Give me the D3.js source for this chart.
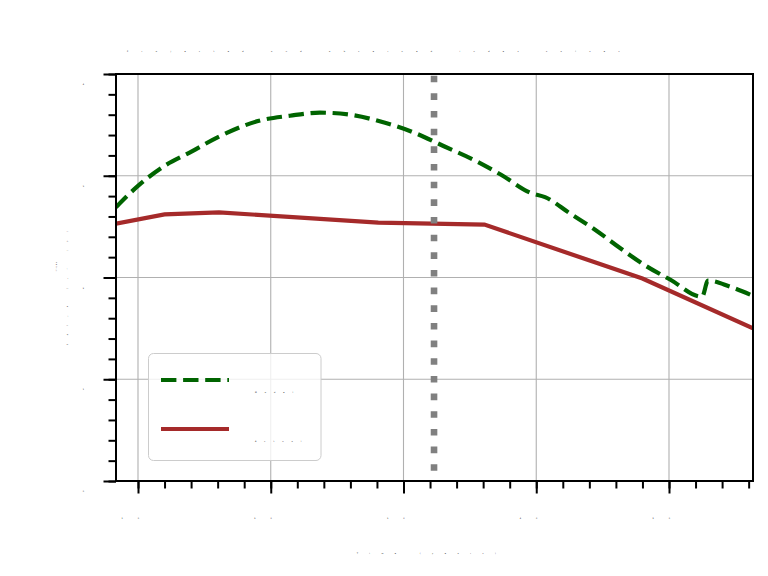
<!DOCTYPE html>
<html><head><meta charset="utf-8">
<script src="https://cdn.jsdelivr.net/npm/d3@7"></script>
<style>html,body{margin:0;padding:0;background:#fff}</style>
</head><body><svg id="chart" width="768" height="576"></svg>
<script>
// ---- data ----
const titleText = "Projected and observed index values";
const xLabelText = "Time (years)";
const yLabelLines = ["Index", "Value (units)"];
const seriesNames = ["Model", "Actual"];
const xTicks = [10, 20, 30, 40, 50];
const xTickLabels = ["10", "20", "30", "40", "50"];
const yTicks = [0, 1, 2, 3, 4];
const yTickLabels = ["0", "1", "2", "3", "4"];
const xMinorTicks = d3.range(10, 57, 2);
const yMinorTicks = d3.range(0, 4.01, 0.2);
const markerX = 32.3;

const projectedX = [8.34, 10.0, 12.03, 13.92, 16.03, 19.12, 21.45, 23.71, 25.97, 28.61, 30.87, 33.05, 35.39, 37.35, 39.61, 40.66, 42.54, 44.43, 46.31, 48.19, 50.08, 52.49, 52.94, 54.6, 56.33];
const projectedY = [2.69, 2.9, 3.1, 3.23, 3.38, 3.54, 3.59, 3.62, 3.6, 3.52, 3.42, 3.29, 3.15, 3.01, 2.83, 2.79, 2.63, 2.47, 2.29, 2.12, 1.98, 1.81, 1.97, 1.91, 1.82];

const observedX = [8.34, 12.0, 16.1, 28.1, 36.1, 48.0, 56.33];
const observedY = [2.53, 2.62, 2.64, 2.54, 2.52, 1.99, 1.5];

// ---- layout ----
const W = 768, H = 576;
const L = 116, R = 753, T = 74, B = 481;
const svg = d3.select("#chart");
const x = d3.scaleLinear().domain([8.343, 56.328]).range([L, R]);
const y = d3.scaleLinear().domain([0, 4]).range([B, T]);
const FONT = "DejaVu Sans, sans-serif";

svg.append("rect").attr("width", W).attr("height", H).attr("fill", "#fff");
svg.append("defs").append("clipPath").attr("id", "clip")
  .append("rect").attr("x", L).attr("y", T).attr("width", R - L).attr("height", B - T);

// grid
const grid = svg.append("g");
grid.selectAll(".gx").data(xTicks).join("line")
  .attr("x1", d => x(d)).attr("x2", d => x(d)).attr("y1", T).attr("y2", B)
  .attr("stroke", "#b0b0b0").attr("stroke-width", 1.1);
grid.selectAll(".gy").data(yTicks).join("line")
  .attr("y1", d => y(d)).attr("y2", d => y(d)).attr("x1", L).attr("x2", R)
  .attr("stroke", "#b0b0b0").attr("stroke-width", 1.1);

// lines
const plot = svg.append("g").attr("clip-path", "url(#clip)");
const line = d3.line().x(d => x(d[0])).y(d => y(d[1]));
const smooth = d3.line().x(d => x(d[0])).y(d => y(d[1])).curve(d3.curveMonotoneX);
plot.append("path").datum(d3.zip(projectedX, projectedY)).attr("d", smooth)
  .attr("fill", "none").attr("stroke", "#006400").attr("stroke-width", 4.2)
  .attr("stroke-dasharray", "15.4,6.7");
plot.append("path").datum(d3.zip(observedX, observedY)).attr("d", line)
  .attr("fill", "none").attr("stroke", "#a52a2a").attr("stroke-width", 4.2);
plot.append("line").attr("x1", x(markerX)).attr("x2", x(markerX)).attr("y1", T).attr("y2", B)
  .attr("stroke", "#808080").attr("stroke-width", 6.6)
  .attr("stroke-dasharray", "6.6,11.06").attr("stroke-dashoffset", 15.96);

// axes ticks
const ax = svg.append("g").attr("transform", `translate(0,${B})`)
  .call(d3.axisBottom(x).tickValues(xMinorTicks).tickSize(7.5).tickFormat(""));
const axM = svg.append("g").attr("transform", `translate(0,${B})`)
  .call(d3.axisBottom(x).tickValues(xTicks).tickSize(12.5).tickFormat(""));
const ay = svg.append("g").attr("transform", `translate(${L},0)`)
  .call(d3.axisLeft(y).tickValues(yMinorTicks).tickSize(7.5).tickFormat(""));
const ayM = svg.append("g").attr("transform", `translate(${L},0)`)
  .call(d3.axisLeft(y).tickValues(yTicks).tickSize(12.5).tickFormat(""));
[ax, axM, ay, ayM].forEach(g => {
  g.select(".domain").remove();
  g.selectAll(".tick line").attr("stroke", "#000").attr("stroke-width", 2);
});

// spines
svg.append("rect").attr("x", L).attr("y", T).attr("width", R - L).attr("height", B - T)
  .attr("fill", "none").attr("stroke", "#000").attr("stroke-width", 2);

// tiny text helper
function tiny(sel, sz, ls) {
  return sel.attr("font-family", FONT).attr("font-size", sz).attr("letter-spacing", ls).attr("fill", "#000");
}

// tick labels
svg.selectAll(".xtl").data(xTicks).join("text")
  .attr("x", d => x(d) + 16).attr("y", 519).attr("text-anchor", "end")
  .text((d, i) => xTickLabels[i]).call(tiny, 2, 15);
svg.selectAll(".ytl").data(yTicks).join("text")
  .attr("x", 84).attr("y", d => y(d) + 11).attr("text-anchor", "end")
  .text((d, i) => yTickLabels[i]).call(tiny, 2, 0);

// title, labels
svg.append("text").attr("x", 380).attr("y", 52).attr("text-anchor", "middle")
  .text(titleText).call(tiny, 2, 13.4);
svg.append("text").attr("x", 432).attr("y", 554).attr("text-anchor", "middle")
  .text(xLabelText).call(tiny, 2, 11.5);
yLabelLines.forEach((t, i) => {
  svg.append("text").attr("transform", `translate(${57 + i * 11},${i === 0 ? 266 : 284}) rotate(-90)`)
    .attr("text-anchor", "middle").text(t).call(tiny, 2, i === 0 ? 1 : 8.4);
});

// legend
const lg = svg.append("g");
lg.append("rect").attr("x", 148.5).attr("y", 353.5).attr("width", 172.5).attr("height", 107)
  .attr("rx", 5).attr("fill", "#fff").attr("fill-opacity", 0.8)
  .attr("stroke", "#cccccc").attr("stroke-width", 1);
const legendItems = [
  { name: seriesNames[0], color: "#006400", dash: "15.4,6.7", cy: 380 },
  { name: seriesNames[1], color: "#a52a2a", dash: null, cy: 429 }
];
legendItems.forEach(it => {
  lg.append("line").attr("x1", 161).attr("x2", 229).attr("y1", it.cy).attr("y2", it.cy)
    .attr("stroke", it.color).attr("stroke-width", 4.2)
    .attr("stroke-dasharray", it.dash);
  lg.append("text").attr("x", 255).attr("y", it.cy + 13).text(it.name).call(tiny, 2, 8);
});
</script></body></html>
